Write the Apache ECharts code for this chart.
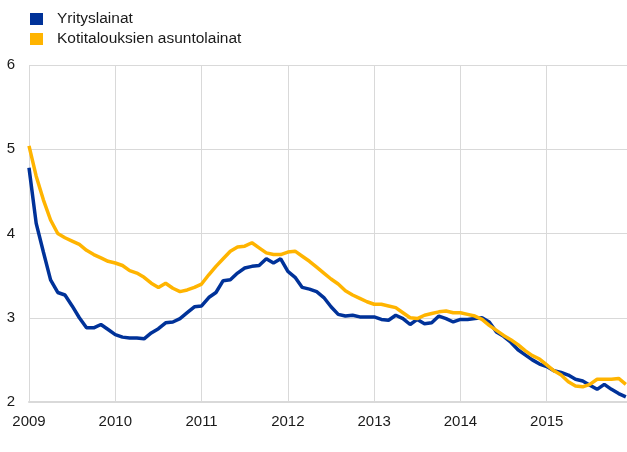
<!DOCTYPE html>
<html>
<head>
<meta charset="utf-8">
<script src="https://cdn.jsdelivr.net/npm/echarts@6/dist/echarts.min.js"></script>
<style>
  html, body { margin: 0; padding: 0; background: #fff; }
  #chart { width: 627px; height: 452px; }
</style>
</head>
<body>
<div id="chart"></div>
<script>
var startYear = 2009;

var yrityslainat = [
    4.78, 4.12, 3.78, 3.45, 3.30, 3.27, 3.14, 3.00, 2.88, 2.88, 2.92, 2.86,
    2.80, 2.77, 2.76, 2.76, 2.75, 2.82, 2.87, 2.94, 2.95, 2.99, 3.06, 3.13,
    3.14, 3.24, 3.30, 3.44, 3.45, 3.53, 3.59, 3.61, 3.62, 3.70, 3.65, 3.70,
    3.55, 3.48, 3.36, 3.34, 3.31, 3.24, 3.13, 3.04, 3.02, 3.03, 3.01, 3.01,
    3.01, 2.98, 2.97, 3.03, 2.99, 2.92, 2.98, 2.93, 2.94, 3.02, 2.99, 2.95,
    2.98, 2.98, 2.99, 3.00, 2.95, 2.83, 2.78, 2.71, 2.62, 2.56, 2.50, 2.45,
    2.42, 2.37, 2.35, 2.32, 2.27, 2.25, 2.20, 2.15, 2.21, 2.15, 2.10, 2.06
];

var asuntolainat = [
    5.04, 4.68, 4.40, 4.16, 4.00, 3.95, 3.91, 3.87, 3.80, 3.75, 3.71, 3.67,
    3.65, 3.62, 3.56, 3.53, 3.48, 3.41, 3.36, 3.41, 3.35, 3.31, 3.33, 3.36,
    3.40, 3.51, 3.61, 3.70, 3.79, 3.84, 3.85, 3.89, 3.83, 3.77, 3.75, 3.75,
    3.78, 3.79, 3.73, 3.67, 3.60, 3.53, 3.46, 3.40, 3.32, 3.27, 3.23, 3.19,
    3.16, 3.16, 3.14, 3.12, 3.06, 3.00, 2.99, 3.03, 3.05, 3.07, 3.08, 3.06,
    3.06, 3.04, 3.02, 2.98, 2.91, 2.85, 2.79, 2.74, 2.68, 2.61, 2.55, 2.51,
    2.44, 2.37, 2.32, 2.24, 2.19, 2.18, 2.21, 2.27, 2.27, 2.27, 2.28, 2.21
];

var seriesNames = ['Yrityslainat', 'Kotitalouksien asuntolainat'];
var seriesColors = ['#003299', '#ffb400'];

function toPoints(values) {
    return values.map(function (v, i) { return [startYear + i / 12, v]; });
}

var chart = echarts.init(document.getElementById('chart'));

chart.setOption({
    animation: false,
    textStyle: { fontFamily: '"Liberation Sans", Arial, sans-serif' },
    legend: {
        orient: 'vertical',
        left: 25,
        top: 5,
        itemWidth: 13,
        itemHeight: 12,
        itemGap: 2,
        icon: 'rect',
        data: seriesNames,
        textStyle: { fontSize: 15.5, lineHeight: 18, color: '#1a1a1a', padding: [0, 0, 0, 9] }
    },
    grid: { left: 29, right: 0, top: 65, bottom: 50 },
    xAxis: {
        type: 'value',
        min: 2009,
        max: 2015.93,
        interval: 1,
        axisLine: { show: true, lineStyle: { color: '#d9d9d9', width: 2 } },
        axisTick: { show: false },
        splitLine: { show: true, lineStyle: { color: '#d9d9d9', width: 1 } },
        axisLabel: {
            color: '#1a1a1a',
            fontSize: 15,
            margin: 12,
            showMaxLabel: false,
            formatter: function (v) { return String(Math.round(v)); }
        }
    },
    yAxis: {
        type: 'value',
        min: 2,
        max: 6,
        interval: 1,
        axisLine: { show: false },
        axisTick: { show: false },
        splitLine: { show: true, lineStyle: { color: '#d9d9d9', width: 1 } },
        axisLabel: { color: '#1a1a1a', fontSize: 15, margin: 14 }
    },
    series: [
        { name: seriesNames[0], type: 'line', data: toPoints(yrityslainat),
          showSymbol: false, lineStyle: { width: 3.5, color: seriesColors[0] },
          itemStyle: { color: seriesColors[0] } },
        { name: seriesNames[1], type: 'line', data: toPoints(asuntolainat),
          showSymbol: false, lineStyle: { width: 3.5, color: seriesColors[1] },
          itemStyle: { color: seriesColors[1] } }
    ]
});
</script>
</body>
</html>
